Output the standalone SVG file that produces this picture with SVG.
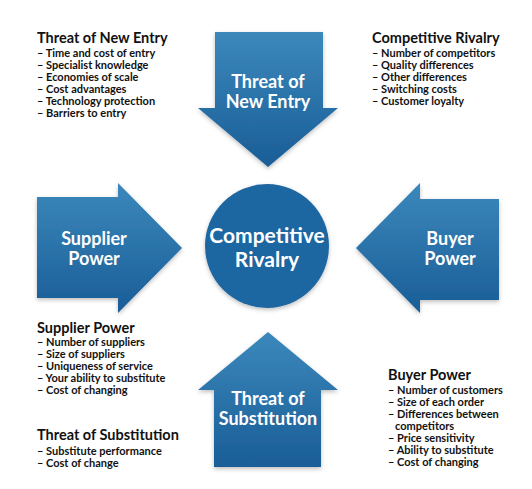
<svg xmlns="http://www.w3.org/2000/svg" width="532" height="489" viewBox="0 0 532 489">
<defs>
<linearGradient id="blue" x1="0" y1="0" x2="0" y2="1">
<stop offset="0" stop-color="#3b88bb"/>
<stop offset="1" stop-color="#1a5d97"/>
</linearGradient>
<filter id="sh" x="-10%" y="-10%" width="120%" height="125%">
<feDropShadow dx="0" dy="2" stdDeviation="2" flood-color="#000" flood-opacity="0.25"/>
</filter>
</defs>
<style>
.arrow{fill:url(#blue);filter:url(#sh)}
.hub{fill:#1e66a1;filter:url(#sh)}
.lbl{font-family:Lato,"Open Sans",sans-serif;font-weight:bold;fill:#fff;text-anchor:middle;font-size:18px}
.hubl{font-family:Lato,"Open Sans",sans-serif;font-weight:bold;fill:#fff;text-anchor:middle;font-size:21px}
.ttl{font-family:Lato,"Open Sans",sans-serif;font-weight:bold;fill:#111;font-size:14.5px}
.itm{font-family:Lato,"Open Sans",sans-serif;font-weight:bold;fill:#111;font-size:11px}
</style>
<rect width="532" height="489" fill="#fff"/>
<g id="connectors">
<g id="arrow-new-entry">
<path class="arrow" d="M215,32 H323 V108 H338 L268,167 L198,108 H215 Z"/>
<text class="lbl" x="268" y="88">Threat of</text>
<text class="lbl" x="268" y="108">New Entry</text>
</g>
<g id="arrow-supplier">
<path class="arrow" d="M37,197 H118 V183 L182,248 L118,313 V298 H37 Z"/>
<text class="lbl" x="94" y="245">Supplier</text>
<text class="lbl" x="94" y="265">Power</text>
</g>
<g id="arrow-buyer">
<path class="arrow" d="M499,199 H420 V183 L356,248 L420,313 V300 H499 Z"/>
<text class="lbl" x="450" y="245">Buyer</text>
<text class="lbl" x="450" y="265">Power</text>
</g>
<g id="arrow-substitution">
<path class="arrow" d="M268,332 L338,390 H321 V467 H214 V390 H198 Z"/>
<text class="lbl" x="268" y="405">Threat of</text>
<text class="lbl" x="268" y="425">Substitution</text>
</g>
</g>
<g id="hub">
<circle class="hub" cx="267" cy="246" r="62"/>
<text class="hubl" x="267" y="243">Competitive</text>
<text class="hubl" x="267" y="267">Rivalry</text>
</g>
<g id="list-new-entry">
<text class="ttl" x="37" y="43">Threat of New Entry</text>
<text class="itm" x="37" y="57">– Time and cost of entry</text>
<text class="itm" x="37" y="69">– Specialist knowledge</text>
<text class="itm" x="37" y="81">– Economies of scale</text>
<text class="itm" x="37" y="93">– Cost advantages</text>
<text class="itm" x="37" y="105">– Technology protection</text>
<text class="itm" x="37" y="117">– Barriers to entry</text>
</g>
<g id="list-rivalry">
<text class="ttl" x="372" y="43">Competitive Rivalry</text>
<text class="itm" x="372" y="57">– Number of competitors</text>
<text class="itm" x="372" y="69">– Quality differences</text>
<text class="itm" x="372" y="81">– Other differences</text>
<text class="itm" x="372" y="93">– Switching costs</text>
<text class="itm" x="372" y="105">– Customer loyalty</text>
</g>
<g id="list-supplier">
<text class="ttl" x="37" y="333">Supplier Power</text>
<text class="itm" x="37" y="346">– Number of suppliers</text>
<text class="itm" x="37" y="358">– Size of suppliers</text>
<text class="itm" x="37" y="370">– Uniqueness of service</text>
<text class="itm" x="37" y="382">– Your ability to substitute</text>
<text class="itm" x="37" y="394">– Cost of changing</text>
</g>
<g id="list-substitution">
<text class="ttl" x="37" y="440">Threat of Substitution</text>
<text class="itm" x="37" y="455">– Substitute performance</text>
<text class="itm" x="37" y="467">– Cost of change</text>
</g>
<g id="list-buyer">
<text class="ttl" x="388" y="380">Buyer Power</text>
<text class="itm" x="388" y="394">– Number of customers</text>
<text class="itm" x="388" y="406">– Size of each order</text>
<text class="itm" x="388" y="418">– Differences between</text>
<text class="itm" x="395" y="430">competitors</text>
<text class="itm" x="388" y="442">– Price sensitivity</text>
<text class="itm" x="388" y="454">– Ability to substitute</text>
<text class="itm" x="388" y="466">– Cost of changing</text>
</g>
</svg>
